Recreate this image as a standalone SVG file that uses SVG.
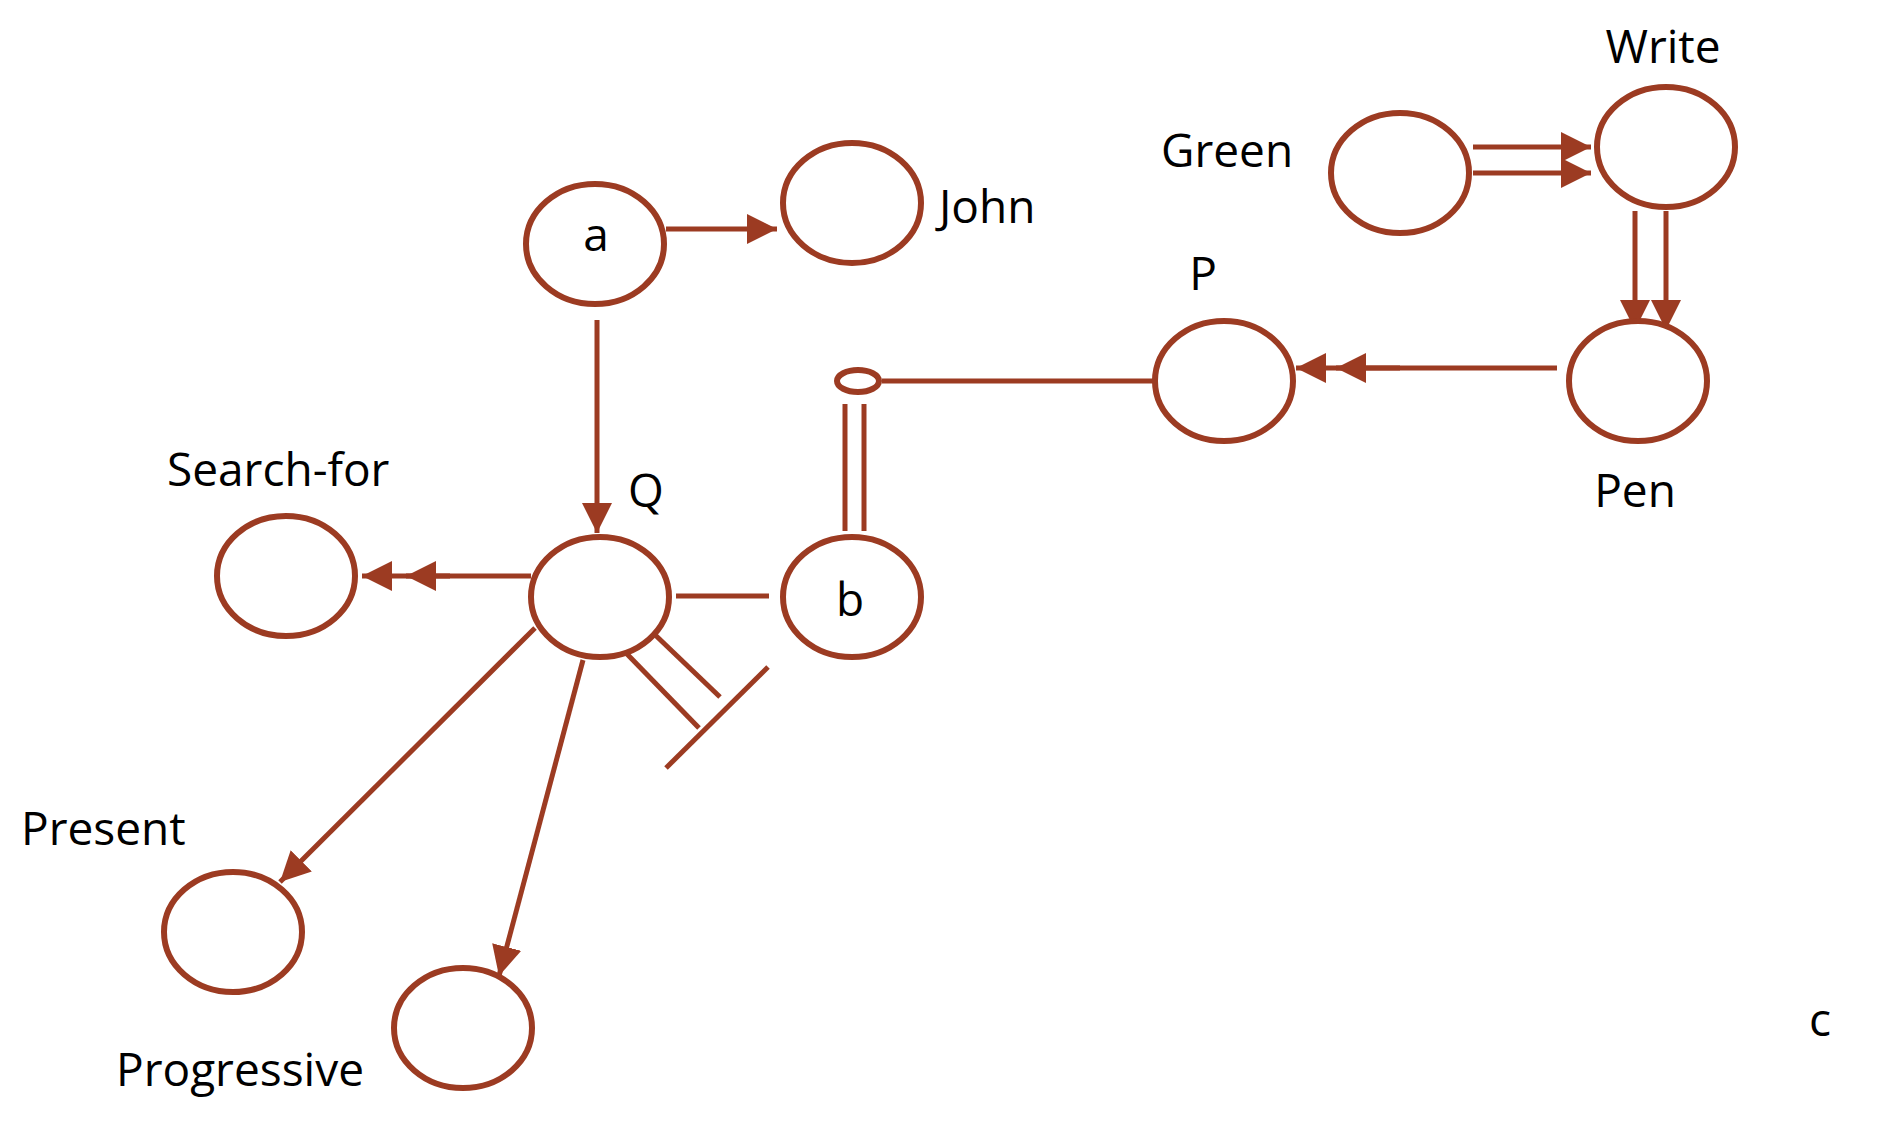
<svg xmlns="http://www.w3.org/2000/svg" width="1877" height="1122" viewBox="0 0 1877 1122">
<style>
.n{fill:#fff;stroke:#9c3b22;stroke-width:6}
.e{stroke:#9c3b22;stroke-width:5;fill:none}
.t{font-family:"Open Sans","Liberation Sans",sans-serif;font-size:46px;fill:#000}
.m{text-anchor:middle}
</style>
<defs>
<marker id="ah" viewBox="0 0 10 10" refX="10" refY="5" markerWidth="6" markerHeight="6" orient="auto"><path d="M0,0L10,5L0,10z" fill="#9c3b22"/></marker>
</defs>
<g id="connectors">
<line class="e" x1="666" y1="229" x2="777" y2="229" marker-end="url(#ah)"/>
<line class="e" x1="597" y1="320" x2="597" y2="533" marker-end="url(#ah)"/>
<line class="e" x1="531" y1="576" x2="362" y2="576" marker-end="url(#ah)"/>
<line class="e" x1="450" y1="576" x2="406" y2="576" marker-end="url(#ah)"/>
<line class="e" x1="676" y1="596" x2="769" y2="596"/>
<line class="e" x1="535" y1="628" x2="280" y2="882" marker-end="url(#ah)"/>
<line class="e" x1="583" y1="660" x2="499" y2="976" marker-end="url(#ah)"/>
<line class="e" x1="650" y1="630" x2="720" y2="697"/>
<line class="e" x1="627" y1="654" x2="699" y2="728"/>
<line class="e" x1="666" y1="768" x2="768" y2="667"/>
<line class="e" x1="845" y1="404" x2="845" y2="531"/>
<line class="e" x1="864" y1="404" x2="864" y2="531"/>
<line class="e" x1="882" y1="381" x2="1162" y2="381"/>
<line class="e" x1="1557" y1="368" x2="1296" y2="368" marker-end="url(#ah)"/>
<line class="e" x1="1400" y1="368" x2="1336" y2="368" marker-end="url(#ah)"/>
<line class="e" x1="1473" y1="147" x2="1591" y2="147" marker-end="url(#ah)"/>
<line class="e" x1="1473" y1="173" x2="1591" y2="173" marker-end="url(#ah)"/>
<line class="e" x1="1635" y1="211" x2="1635" y2="330" marker-end="url(#ah)"/>
<line class="e" x1="1666" y1="211" x2="1666" y2="330" marker-end="url(#ah)"/>
</g>
<g id="a"><ellipse class="n" cx="595" cy="244" rx="69" ry="60"/><text class="t m" x="596" y="251">a</text></g>
<g id="john"><ellipse class="n" cx="852" cy="203" rx="69" ry="60"/><text class="t" x="939" y="223">John</text></g>
<g id="write"><ellipse class="n" cx="1666" cy="147" rx="69" ry="60"/><text class="t m" x="1663" y="63">Write</text></g>
<g id="green"><ellipse class="n" cx="1400" cy="173" rx="69" ry="60"/><text class="t" x="1161" y="167">Green</text></g>
<g id="p"><ellipse class="n" cx="1224" cy="381" rx="69" ry="60"/><text class="t m" x="1203" y="290">P</text></g>
<g id="pen"><ellipse class="n" cx="1638" cy="381" rx="69" ry="60"/><text class="t m" x="1635" y="507">Pen</text></g>
<g id="q"><ellipse class="n" cx="600" cy="597" rx="69" ry="60"/><text class="t m" x="646" y="507">Q</text></g>
<g id="b"><ellipse class="n" cx="852" cy="597" rx="69" ry="60"/><text class="t m" x="850" y="616">b</text></g>
<g id="searchfor"><ellipse class="n" cx="286" cy="576" rx="69" ry="60"/><text class="t" x="167" y="486">Search-for</text></g>
<g id="present"><ellipse class="n" cx="233" cy="932" rx="69" ry="60"/><text class="t" x="21" y="845">Present</text></g>
<g id="progressive"><ellipse class="n" cx="463" cy="1028" rx="69" ry="60"/><text class="t" x="116" y="1086">Progressive</text></g>
<g id="junction"><ellipse class="n" cx="858" cy="381" rx="21" ry="11"/></g>
<text class="t m" x="1820" y="1036">c</text>
</svg>
